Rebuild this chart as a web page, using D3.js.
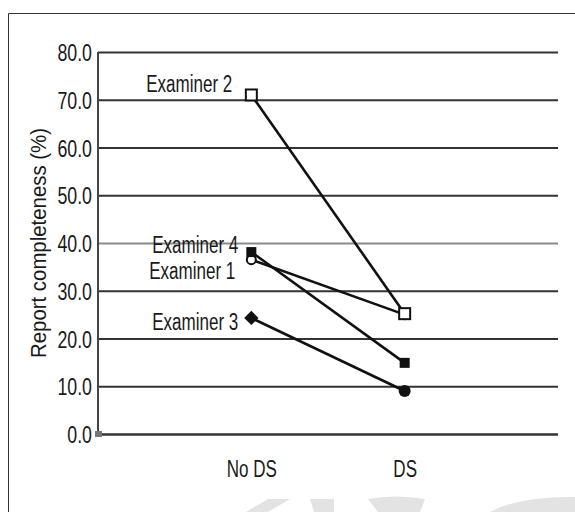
<!DOCTYPE html>
<html><head><meta charset="utf-8">
<script src="https://cdn.jsdelivr.net/npm/d3@7"></script>
<style>html,body{margin:0;padding:0;background:#fff;}svg{display:block;}</style>
</head><body>
<svg id="chart" width="575" height="512"></svg>
<script>
const categories = ["No DS", "DS"];
const examiners = ["Examiner 1", "Examiner 2", "Examiner 3", "Examiner 4"];
const examiner1 = [36.5, 25.0];
const examiner2 = [71.0, 25.2];
const examiner3 = [24.3, 9.0];
const examiner4 = [38.1, 14.9];
const yTicks = [0, 10, 20, 30, 40, 50, 60, 70, 80];
const yTickLabels = ["0.0","10.0","20.0","30.0","40.0","50.0","60.0","70.0","80.0"];
const yTitle = "Report completeness (%)";

const series = [
  {name: examiners[0], values: examiner1, marker: "circleOpen"},
  {name: examiners[3], values: examiner4, marker: "squareFilled"},
  {name: examiners[2], values: examiner3, marker: "diamondFilled"},
  {name: examiners[1], values: examiner2, marker: "squareOpen"}
];

const font = "'Liberation Sans',Arial,sans-serif";
const K = 0.74; // horizontal condensing of text
function condense(sel, k) {
  sel.each(function() {
    const w = this.getComputedTextLength();
    d3.select(this).attr("textLength", w * (k || K)).attr("lengthAdjust", "spacingAndGlyphs");
  });
}
const svg = d3.select("#chart");

// watermark shapes
const wm = svg.append("g").attr("fill", "#e3e3e3");
wm.append("path").attr("d", "M268,499 L290,499 L268,512 L246,512 Z");
wm.append("path").attr("d", "M310,499 L334,499 L334,512 L314,512 Z");
wm.append("path").attr("d", "M368,499 Q395,494 425,499 L420,512 L378,512 Z");
wm.append("path").attr("d", "M490,512 Q520,496 575,497 L575,512 Z");

// frame
svg.append("path").attr("d", "M8.5,512 L8.5,13.5 L575,13.5")
  .attr("fill", "none").attr("stroke", "#333").attr("stroke-width", 1);

const x = d3.scalePoint().domain(categories).range([98, 558]).padding(1);
const y = d3.scaleLinear().domain([0, 80]).range([434, 52]);

// gridlines
const grid = svg.append("g").attr("transform", "translate(98,0)")
  .call(d3.axisLeft(y).tickValues(yTicks).tickSize(-460).tickFormat(""));
grid.select(".domain").remove();
grid.selectAll(".tick line")
  .attr("stroke", d => d === 40 ? "#8a8a8a" : "#333")
  .attr("stroke-width", d => d === 0 ? 2.4 : 2);

// y axis line
svg.append("line").attr("x1", 98).attr("x2", 98).attr("y1", y(80)).attr("y2", y(0))
  .attr("stroke", "#444").attr("stroke-width", 2);

// tick labels
const yAxis = svg.append("g").attr("transform", "translate(98,0)")
  .call(d3.axisLeft(y).tickValues(yTicks).tickSize(0).tickPadding(6)
    .tickFormat((d, i) => yTickLabels[i]));
yAxis.select(".domain").remove();
yAxis.selectAll("text").attr("font-family", font).attr("font-size", 24).attr("fill", "#1a1a1a")
  .attr("dy", "0.36em").call(condense);

// x labels
const xAxis = svg.append("g").attr("transform", "translate(0,434)")
  .call(d3.axisBottom(x).tickSize(0).tickPadding(27));
xAxis.select(".domain").remove();
xAxis.selectAll("text").attr("font-family", font).attr("font-size", 23).attr("fill", "#1a1a1a")
  .call(condense);

// y title
svg.append("text").attr("transform", `translate(46,${(y(0)+y(80))/2}) rotate(-90)`)
  .attr("text-anchor", "middle").attr("font-family", font).attr("font-size", 22)
  .attr("fill", "#1a1a1a").text(yTitle)
  .attr("textLength", 230).attr("lengthAdjust", "spacingAndGlyphs");

// origin marker
svg.append("rect").attr("x", 95).attr("y", y(0) - 3).attr("width", 7).attr("height", 6).attr("fill", "#777");

// lines
const line = d3.line().x((d, i) => x(categories[i])).y(d => y(d));
series.forEach(s => {
  svg.append("path").attr("d", line(s.values)).attr("fill", "none")
    .attr("stroke", "#111").attr("stroke-width", 2.6);
});

// markers
function drawMarker(g, type, cx, cy) {
  if (type === "circleOpen") {
    g.append("circle").attr("cx", cx).attr("cy", cy).attr("r", 4.5)
      .attr("fill", "#fff").attr("stroke", "#111").attr("stroke-width", 2);
  } else if (type === "squareFilled") {
    g.append("rect").attr("x", cx - 5).attr("y", cy - 5).attr("width", 10).attr("height", 10).attr("fill", "#111");
  } else if (type === "squareOpen") {
    g.append("rect").attr("x", cx - 5.5).attr("y", cy - 5.5).attr("width", 11).attr("height", 11)
      .attr("fill", "#fff").attr("stroke", "#111").attr("stroke-width", 2);
  } else if (type === "diamondFilled") {
    g.append("path").attr("d", d3.symbol(d3.symbolDiamond2, 130)()).attr("transform", `translate(${cx},${cy})`).attr("fill", "#111");
  } else if (type === "circleFilled") {
    g.append("circle").attr("cx", cx).attr("cy", cy).attr("r", 6).attr("fill", "#111");
  }
}
const mg = svg.append("g");
series.forEach(s => {
  s.values.forEach((v, i) => {
    let m = s.marker;
    if (s.name === "Examiner 3" && i === 1) m = "circleFilled";
    drawMarker(mg, m, x(categories[i]), y(v));
  });
});

// examiner labels
const labels = [
  {name: examiners[1], v: examiner2[0], dx: -19, dy: -3},
  {name: examiners[3], v: examiner4[0], dx: -13, dy: 1},
  {name: examiners[0], v: examiner1[0], dx: -16, dy: 19},
  {name: examiners[2], v: examiner3[0], dx: -13, dy: 12}
];
labels.forEach(l => {
  svg.append("text").attr("x", x(categories[0]) + l.dx).attr("y", y(l.v) + l.dy)
    .attr("text-anchor", "end").attr("font-family", font).attr("font-size", 23)
    .attr("fill", "#1a1a1a").text(l.name).call(condense);
});
</script>
</body></html>
